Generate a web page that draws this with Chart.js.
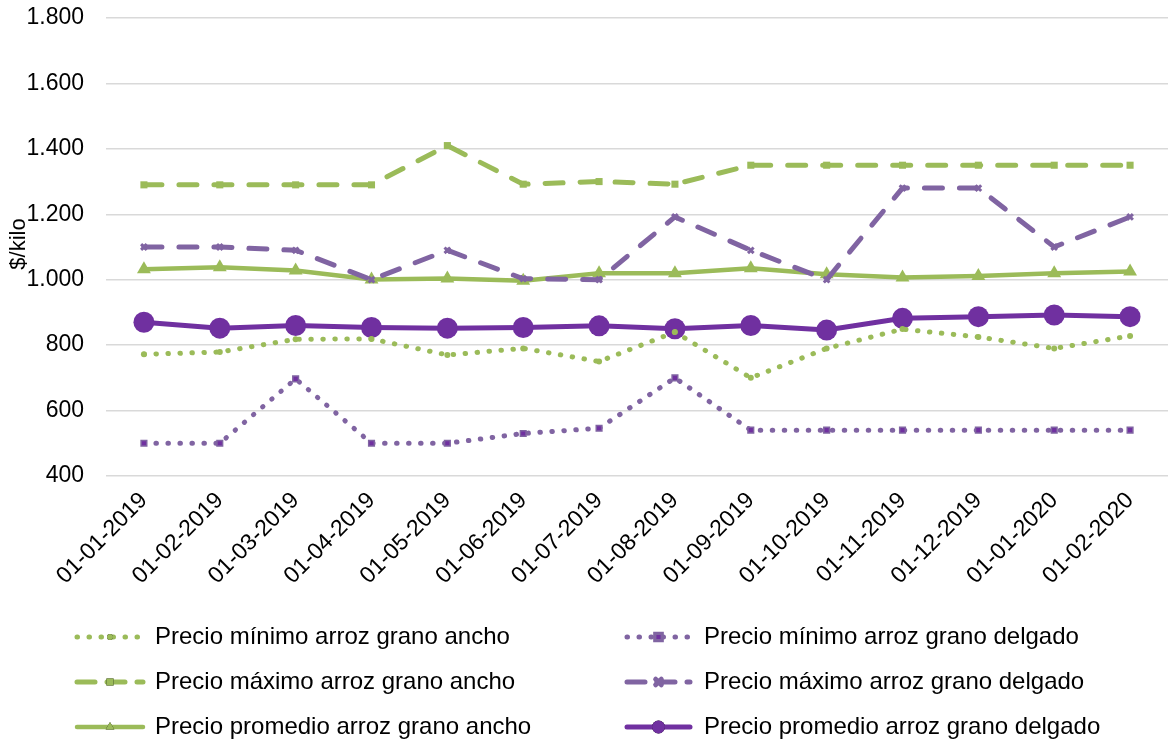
<!DOCTYPE html>
<html>
<head>
<meta charset="utf-8">
<script src="https://cdn.jsdelivr.net/npm/chart.js@4.4.1/dist/chart.umd.min.js"></script>
<style>
  html, body { margin: 0; padding: 0; background: #fff; }
  #wrap { width: 1168px; height: 744px; position: relative; }
</style>
</head>
<body>
<div id="wrap"><canvas id="precios"></canvas></div>
<script>
// fechas (eje x)
const fechas = ['01-01-2019', '01-02-2019', '01-03-2019', '01-04-2019', '01-05-2019', '01-06-2019', '01-07-2019',
  '01-08-2019', '01-09-2019', '01-10-2019', '01-11-2019', '01-12-2019', '01-01-2020', '01-02-2020'];

// precios en $/kilo
const minimoAncho = [772, 779, 818, 819, 770, 790, 750, 840, 700, 790, 849, 825, 790, 828];
const minimoDelgado = [500, 500, 697, 500, 500, 530, 546, 700, 540, 540, 540, 540, 540, 540];
const maximoAncho = [1290, 1290, 1290, 1290, 1410, 1292, 1300, 1292, 1350, 1350, 1350, 1350, 1350, 1350];
const maximoDelgado = [1100, 1100, 1090, 1000, 1090, 1003, 1000, 1192, 1090, 1000, 1280, 1280, 1100, 1192];
const promedioAncho = [1032, 1038, 1028, 1001, 1004, 997, 1020, 1020, 1035, 1017, 1007, 1011, 1020, 1025];
const promedioDelgado = [870, 852, 860, 854, 852, 854, 859, 850, 860, 846, 882, 887, 892, 887];

// eje y
const yMin = 400, yMax = 1800, yPaso = 200;

const VERDE = '#9BBB59';
const LILA = '#8064A2';
const MORADO = '#7030A0';
const FUENTE = 'Arial, "Liberation Sans", sans-serif';

function miles(v) {
  return String(v).replace(/\B(?=(\d{3})+(?!\d))/g, '.');
}

const series = [
  { label: 'Precio mínimo arroz grano ancho', data: minimoAncho, borderColor: VERDE, backgroundColor: VERDE,
    borderWidth: 5, borderDash: [0.5, 11.5], pointStyle: 'circle', pointRadius: 3, pointBorderWidth: 0 },
  { label: 'Precio mínimo arroz grano delgado', data: minimoDelgado, borderColor: LILA, backgroundColor: MORADO,
    borderWidth: 5, borderDash: [0.5, 11.5], pointStyle: 'rect', pointRadius: 4, pointBorderWidth: 1.5, pointBorderColor: LILA },
  { label: 'Precio máximo arroz grano ancho', data: maximoAncho, borderColor: VERDE, backgroundColor: VERDE,
    borderWidth: 5, borderDash: [18, 17], pointStyle: 'rect', pointRadius: 5, pointBorderWidth: 0 },
  { label: 'Precio máximo arroz grano delgado', data: maximoDelgado, borderColor: LILA, backgroundColor: LILA,
    borderWidth: 5, borderDash: [18, 17], pointStyle: 'crossRot', pointRadius: 4, pointBorderWidth: 3, pointBorderColor: LILA },
  { label: 'Precio promedio arroz grano ancho', data: promedioAncho, borderColor: VERDE, backgroundColor: VERDE,
    borderWidth: 4.5, borderDash: [], pointStyle: 'triangle', pointRadius: 8, pointBorderWidth: 0 },
  { label: 'Precio promedio arroz grano delgado', data: promedioDelgado, borderColor: MORADO, backgroundColor: MORADO,
    borderWidth: 5, borderDash: [], pointStyle: 'circle', pointRadius: 10.5, pointBorderWidth: 0 }
];

// leyenda en dos columnas y título del eje y, dibujados sobre el canvas
const extras = {
  id: 'extras',
  afterDraw(chart) {
    const ctx = chart.ctx;
    const area = chart.chartArea;
    ctx.save();
    ctx.fillStyle = '#000';
    ctx.font = '22px ' + FUENTE;
    ctx.translate(19, (area.top + area.bottom) / 2 - 3);
    ctx.rotate(-Math.PI / 2);
    ctx.textAlign = 'center';
    ctx.textBaseline = 'middle';
    ctx.fillText('$/kilo', 0, 0);
    ctx.restore();

    const cols = [{ x0: 77, x1: 143, tx: 155 }, { x0: 627, x1: 690, tx: 704 }];
    const rows = [637, 682, 727];
    chart.data.datasets.forEach((ds, i) => {
      const c = cols[i % 2];
      const y = rows[Math.floor(i / 2)];
      ctx.save();
      ctx.strokeStyle = ds.borderColor;
      ctx.lineWidth = ds.borderWidth;
      ctx.lineCap = 'round';
      ctx.setLineDash(ds.borderDash.length ? (ds.borderDash[0] < 1 ? [0.5, 11.5] : [18, 12]) : []);
      ctx.beginPath();
      ctx.moveTo(c.x0, y);
      ctx.lineTo(c.x1, y);
      ctx.stroke();
      ctx.setLineDash([]);
      const r = ds.pointStyle === 'circle' && ds.pointRadius > 5 ? 6.5 : Math.min(ds.pointRadius, 5);
      Chart.helpers.drawPoint(ctx, {
        pointStyle: ds.pointStyle, rotation: 0, radius: r, borderWidth: ds.pointBorderWidth
      }, (c.x0 + c.x1) / 2, y);
      ctx.fillStyle = ds.backgroundColor;
      ctx.strokeStyle = ds.pointBorderColor || ds.borderColor;
      ctx.lineWidth = ds.pointBorderWidth;
      ctx.fill();
      if (ds.pointBorderWidth) ctx.stroke();
      ctx.fillStyle = '#000';
      ctx.font = '24px ' + FUENTE;
      ctx.textAlign = 'left';
      ctx.textBaseline = 'middle';
      ctx.fillText(ds.label, c.tx, y);
      ctx.restore();
    });
  }
};

new Chart(document.getElementById('precios'), {
  type: 'line',
  data: {
    labels: fechas,
    datasets: series.map(s => Object.assign({
      fill: false,
      tension: 0,
      borderCapStyle: 'round',
      pointHoverRadius: 8
    }, s))
  },
  options: {
    responsive: true,
    maintainAspectRatio: false,
    animation: false,
    layout: { autoPadding: false, padding: { left: 26, top: 18, right: 0, bottom: 150 } },
    plugins: {
      legend: { display: false },
      tooltip: { enabled: false }
    },
    scales: {
      x: {
        offset: true,
        grid: { display: false },
        border: { display: false },
        afterFit(scale) {
          scale.height = 118;
          scale.paddingLeft = 0;
          scale.paddingRight = 0;
        },
        ticks: {
          color: '#000',
          font: { family: FUENTE, size: 23 },
          minRotation: 45,
          maxRotation: 45,
          autoSkip: false,
          padding: 3
        }
      },
      y: {
        min: yMin,
        max: yMax,
        border: { display: false },
        grid: { color: '#d9d9d9', lineWidth: 1.5, drawTicks: false },
        afterFit(scale) {
          scale.width = 80;
          scale.paddingTop = 0;
          scale.paddingBottom = 0;
        },
        ticks: {
          stepSize: yPaso,
          color: '#000',
          padding: 22,
          font: { family: FUENTE, size: 23 },
          callback: v => miles(v)
        }
      }
    }
  },
  plugins: [extras]
});
</script>
</body>
</html>
